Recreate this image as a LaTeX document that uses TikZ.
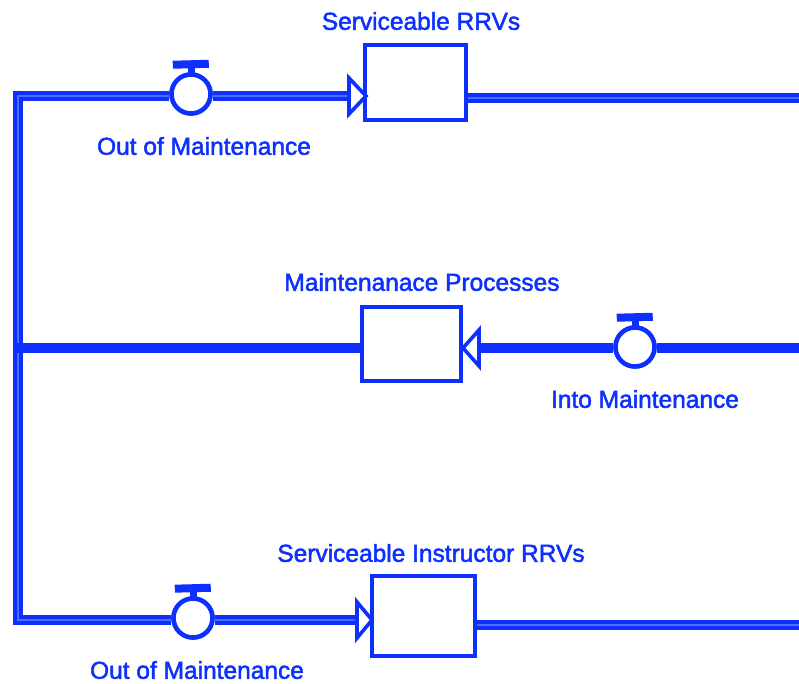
\documentclass[tikz,border=0pt]{standalone}
\usepackage{fontspec}
\setmainfont{Liberation Sans}
\newfontfamily\labelfont{Liberation Sans}[FakeBold=2]
\definecolor{flowblue}{RGB}{14,48,255}
\definecolor{pipecore}{RGB}{80,108,255}
\begin{document}
\begin{tikzpicture}[x=1pt,y=-1pt,
  pipe/.style={draw=flowblue,line width=10pt,line join=miter,
    postaction={draw=pipecore,line width=1.1pt}},
  solidpipe/.style={draw=flowblue,line width=10pt},
  stock/.style={draw=flowblue,line width=4.2pt,fill=white,rectangle,inner sep=0pt},
  valve/.style={draw=flowblue,line width=4.5pt,fill=white,circle,inner sep=0pt,minimum size=39pt},
  tip/.style={draw=flowblue,line width=3.6pt,fill=white,line join=miter},
  lbl/.style={text=flowblue,font=\labelfont\fontsize{24.5}{28}\selectfont,inner sep=0pt}]
\useasboundingbox (0,0) rectangle (799,683);

% stocks
\node[stock,minimum width=101pt,minimum height=75pt] (s1) at (415.5,82.5) {};
\node[stock,minimum width=99pt,minimum height=74pt] (s2) at (411.5,344) {};
\node[stock,minimum width=103pt,minimum height=80pt] (s3) at (423.5,616) {};

% corner points of the return pipe and the open ends on the right
\coordinate (ctop) at (18,96);
\coordinate (cmid) at (18,348);
\coordinate (cbot) at (18,620);
\coordinate (out1) at (800,98);
\coordinate (out2) at (800,348);
\coordinate (out3) at (800,625);

% valves
\node[valve] (v1) at (191,94) {};
\node[valve] (v2) at (635,347) {};
\node[valve] (v3) at (193,618) {};

% arrow bases
\coordinate (a1) at (348,96);
\coordinate (a2) at (480,348);
\coordinate (a3) at (356,620);

% pipes
\draw[pipe] (v1.west |- ctop) -- (ctop) -- (cbot) -- (v3.west |- cbot);
\draw[solidpipe] (s2.west |- cmid) -- ([xshift=-5pt]cmid);
\draw[pipe] (v1.east |- a1) -- (a1);
\draw[pipe] (v3.east |- a3) -- (a3);
\draw[pipe] (s1.east |- out1) -- (out1);
\draw[pipe] (s3.east |- out3) -- (out3);
\draw[solidpipe] (v2.east |- out2) -- (out2);
\draw[solidpipe] (v2.west |- a2) -- (a2);

% stocks and valves drawn again over the pipe ends
\node[stock,minimum width=101pt,minimum height=75pt] at (s1) {};
\node[stock,minimum width=99pt,minimum height=74pt] at (s2) {};
\node[stock,minimum width=103pt,minimum height=80pt] at (s3) {};
\node[valve] at (v1) {};
\node[valve] at (v2) {};
\node[valve] at (v3) {};

% hollow arrowheads into the stocks
\draw[tip] (349,78) -- (366,96) -- (349,114) -- cycle;
\draw[tip] (479,330) -- (463,348) -- (479,366) -- cycle;
\draw[tip] (357,602) -- (372,620) -- (357,638) -- cycle;

% valve handles: short stem and a slightly tilted bar
\foreach \v in {v1,v2,v3}{
  \fill[flowblue] ([xshift=-3.5pt,yshift=-1pt]\v.north) rectangle ([xshift=3.5pt,yshift=5pt]\v.north);
  \fill[flowblue,rotate around={1.5:([yshift=8pt]\v.north)}]
    ([xshift=-18pt,yshift=4pt]\v.north) rectangle ([xshift=18pt,yshift=12pt]\v.north);
}

% labels
\node[lbl] (t1) at (421,21) {Serviceable RRVs};
\node[lbl] (t2) at (204,146) {Out of Maintenance};
\node[lbl] (t3) at (422,282) {Maintenanace Processes};
\node[lbl] (t4) at (645,399) {Into Maintenance};
\node[lbl] (t5) at (431,553) {Serviceable Instructor RRVs};
\node[lbl] (t6) at (197,670) {Out of Maintenance};
\end{tikzpicture}
\end{document}
